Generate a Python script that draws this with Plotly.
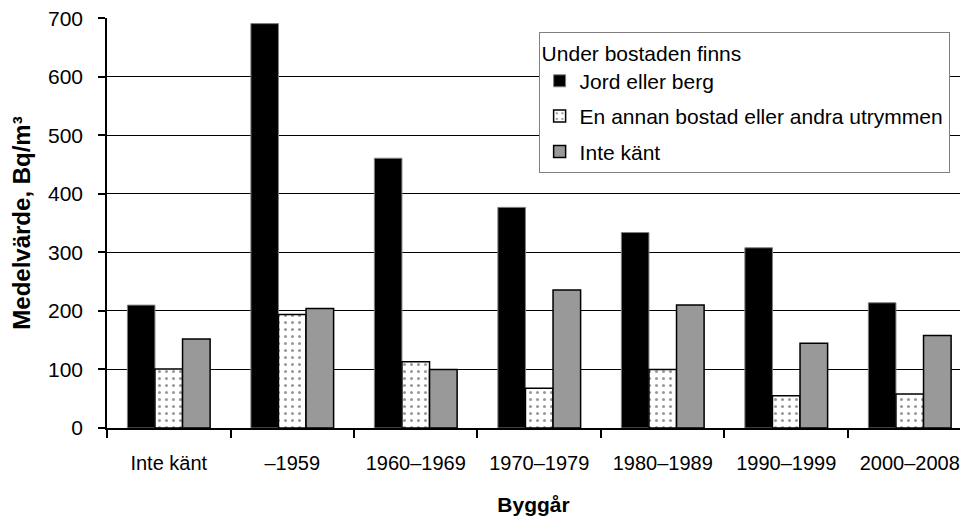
import plotly.graph_objects as go

categories = ["Inte känt", "–1959", "1960–1969", "1970–1979", "1980–1989", "1990–1999", "2000–2008"]
jord_eller_berg = [210, 691, 461, 377, 334, 308, 214]
annan_bostad = [101, 194, 113, 68, 100, 55, 58]
inte_kant = [152, 204, 100, 236, 210, 145, 158]

series_names = ["Jord eller berg", "En annan bostad eller andra utrymmen", "Inte känt"]
y_ticks = [0, 100, 200, 300, 400, 500, 600, 700]

FONT = "Liberation Sans, Arial, sans-serif"

fig = go.Figure()
fig.add_trace(go.Bar(
    x=categories, y=jord_eller_berg, name=series_names[0], legendgroup="a",
    marker=dict(color="#000000", line=dict(color="#808080", width=1)),
))
fig.add_trace(go.Bar(
    x=categories, y=annan_bostad, name=series_names[1], legendgroup="b",
    marker=dict(color="#ffffff", line=dict(color="#000000", width=1.5),
                pattern=dict(shape=".", fgcolor="#333333", bgcolor="#ffffff",
                             size=7, solidity=0.15)),
))
fig.add_trace(go.Bar(
    x=categories, y=inte_kant, name=series_names[2], legendgroup="c",
    marker=dict(color="#999999", line=dict(color="#000000", width=1.5)),
))

fig.update_layout(
    width=952, height=508,
    margin=dict(l=99, r=0, t=10, b=88),
    paper_bgcolor="white", plot_bgcolor="white",
    barmode="group", bargap=0.33, bargroupgap=0,
    font=dict(family=FONT, size=20, color="#000000"),
    legend=dict(
        title=dict(text="Under bostaden finns", font=dict(size=21)),
        font=dict(size=21),
        x=0.506, y=0.965, xanchor="left", yanchor="top",
        bordercolor="#808080", borderwidth=1, bgcolor="white",
        tracegroupgap=5,
    ),
    xaxis=dict(
        type="category", range=[-0.5, 6.407],
        tickson="boundaries", ticks="outside", ticklen=8, tickwidth=1.5, tickcolor="#000",
        showline=True, linecolor="#000", linewidth=1.5,
        showgrid=False,
        ticklabelstandoff=16,
        title=dict(text="<b>Byggår</b>", font=dict(size=21), standoff=27),
        tickfont=dict(size=20),
    ),
    yaxis=dict(
        range=[0, 700.6], tickvals=y_ticks, ticks="outside", ticklen=7, tickwidth=1.5,
        tickcolor="#000", showline=True, linecolor="#000", linewidth=1.5,
        showgrid=True, gridcolor="#000000", gridwidth=1,
        zeroline=False,
        ticklabelstandoff=11, ticklabeloverflow="allow",
        title=dict(text="<b>Medelvärde, Bq/m³</b>", font=dict(size=24), standoff=12),
        tickfont=dict(size=21),
    ),
)

fig.write_html("out.html")
